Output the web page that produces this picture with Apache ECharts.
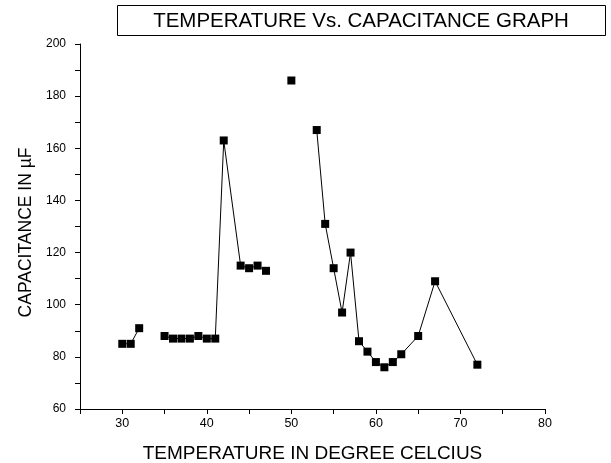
<!DOCTYPE html>
<html>
<head>
<meta charset="utf-8">
<script src="https://cdn.jsdelivr.net/npm/echarts@6/dist/echarts.min.js"></script>
<style>
html, body { margin: 0; padding: 0; background: #fff; }
#main { width: 611px; height: 463px; }
</style>
</head>
<body>
<div id="main"></div>
<script>
var temps = [30, 31, 32, 35, 36, 37, 38, 39, 40, 41, 42, 44, 45, 46, 47, 50, 53, 54, 55, 56, 57, 58, 59, 60, 61, 62, 63, 65, 67, 72];
var caps  = [85, 85, 91, 88, 87, 87, 87, 88, 87, 87, 163, 115, 114, 115, 113, 186, 167, 131, 114, 97, 120, 86, 82, 78, 76, 78, 81, 88, 109, 77];
// line is broken after these temperatures
var gapsAfter = [32, 47, 50];

var lineData = [];
for (var i = 0; i < temps.length; i++) {
    lineData.push([temps[i], caps[i]]);
    if (gapsAfter.indexOf(temps[i]) >= 0) lineData.push('-');
}

var myChart = echarts.init(document.getElementById('main'));
var font = 'Liberation Sans, Arial, sans-serif';
var option = {
    animation: false,
    graphic: [
        {
            type: 'rect',
            shape: {x: 117.5, y: 5.5, width: 488, height: 30},
            style: {fill: '#fff', stroke: '#000', lineWidth: 1}
        },
        {
            type: 'text',
            x: 361, y: 21,
            style: {
                text: 'TEMPERATURE Vs. CAPACITANCE GRAPH',
                font: '20.5px ' + font,
                fill: '#000',
                align: 'center',
                verticalAlign: 'middle'
            }
        }
    ],
    grid: {left: 80, right: 66, top: 44, bottom: 54, outerBoundsMode: 'none'},
    xAxis: {
        type: 'value',
        min: 25, max: 80, interval: 5,
        name: 'TEMPERATURE IN DEGREE CELCIUS',
        nameLocation: 'middle',
        nameGap: 35,
        nameTextStyle: {fontSize: 19, color: '#000', fontFamily: font},
        splitLine: {show: false},
        axisLine: {lineStyle: {color: '#000', width: 1}},
        axisTick: {length: 5, lineStyle: {color: '#000'}},
        axisLabel: {
            color: '#000', fontSize: 12.5, fontFamily: font, margin: 8,
            formatter: function (v) { return v % 10 === 0 && v > 25 ? String(v) : ''; }
        }
    },
    yAxis: {
        type: 'value',
        min: 60, max: 200, interval: 10,
        name: 'CAPACITANCE IN µF',
        nameLocation: 'middle',
        nameGap: 44,
        nameTextStyle: {fontSize: 17.5, color: '#000', fontFamily: font, padding: [0, 12, 0, 0]},
        splitLine: {show: false},
        axisLine: {show: true, lineStyle: {color: '#000', width: 1}},
        axisTick: {show: true, length: 5, lineStyle: {color: '#000'}},
        axisLabel: {
            color: '#000', fontSize: 12, fontFamily: font, margin: 14,
            formatter: function (v) { return v % 20 === 0 ? String(v) : ''; }
        }
    },
    series: [
        {
            type: 'line',
            data: lineData,
            connectNulls: false,
            symbol: 'rect',
            symbolSize: 8,
            lineStyle: {color: '#000', width: 1},
            itemStyle: {color: '#000'}
        }
    ]
};
myChart.setOption(option);
</script>
</body>
</html>
